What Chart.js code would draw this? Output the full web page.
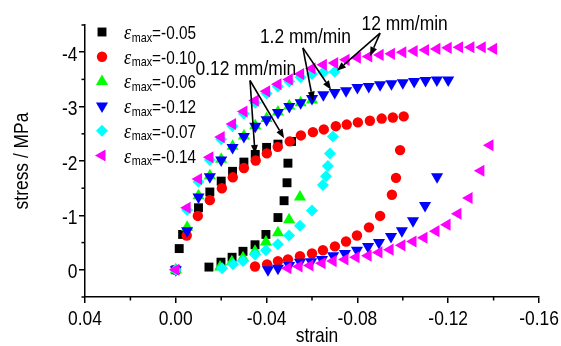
<!DOCTYPE html>
<html>
<head>
<meta charset="utf-8">
<script src="https://cdn.jsdelivr.net/npm/chart.js@4/dist/chart.umd.min.js"></script>
<style>
  body { margin: 0; background: #fff; }
</style>
</head>
<body>
<canvas id="myChart" width="561" height="346"></canvas>
<script>
// stress-strain loops (loading then unloading)
var strain005 = [0, -0.0015, -0.003, -0.010, -0.015, -0.020, -0.025, -0.030, -0.035, -0.040, -0.045, -0.051,
  -0.0494, -0.049, -0.0477, -0.045, -0.0397, -0.0349, -0.0296, -0.0248, -0.0199, -0.0146];
var stress005 = [0, -0.39, -0.65, -1.14, -1.43, -1.63, -1.81, -1.98, -2.12, -2.25, -2.31, -2.36,
  -1.96, -1.60, -1.27, -0.96, -0.65, -0.46, -0.34, -0.23, -0.14, -0.05];

var strain010 = [0, -0.0048, -0.0097, -0.015, -0.0203, -0.0251, -0.030, -0.0352, -0.0401, -0.0449, -0.0502,
  -0.0551, -0.0604, -0.0652, -0.0705, -0.0753, -0.0802, -0.0855, -0.0907, -0.0956, -0.1004,
  -0.0988, -0.097, -0.0952, -0.090, -0.0851, -0.0798, -0.075, -0.0701, -0.0648, -0.060, -0.0547, -0.0494, -0.045, -0.0402, -0.0349];
var stress010 = [0, -0.63, -0.99, -1.28, -1.50, -1.70, -1.87, -2.01, -2.14, -2.26, -2.36,
  -2.47, -2.53, -2.58, -2.64, -2.67, -2.71, -2.74, -2.78, -2.80, -2.82,
  -2.20, -1.69, -1.38, -0.99, -0.78, -0.63, -0.52, -0.43, -0.36, -0.30, -0.25, -0.19, -0.16, -0.10, -0.06];

var strain006 = [0, -0.005, -0.010, -0.015, -0.020, -0.025, -0.030, -0.035, -0.040, -0.045, -0.050, -0.055, -0.060,
  -0.0547, -0.0499, -0.045, -0.0397, -0.0349, -0.0296, -0.0247, -0.0195];
var stress006 = [0, -0.78, -1.36, -1.73, -2.03, -2.27, -2.46, -2.65, -2.78, -2.90, -3.01, -3.07, -3.12,
  -1.34, -0.92, -0.68, -0.51, -0.34, -0.22, -0.15, -0.05];

var strain012 = [0, -0.005, -0.010, -0.015, -0.020, -0.025, -0.030, -0.035, -0.040, -0.045, -0.050, -0.055, -0.060,
  -0.065, -0.070, -0.075, -0.080, -0.085, -0.090, -0.095, -0.100, -0.105, -0.110, -0.115, -0.120,
  -0.1151, -0.1098, -0.1045, -0.0996, -0.0948, -0.0895, -0.0847, -0.0798, -0.0745, -0.0693, -0.0644, -0.0596, -0.0547, -0.0499, -0.045, -0.0406];
var stress012 = [0, -0.72, -1.34, -1.71, -2.02, -2.25, -2.45, -2.64, -2.76, -2.89, -3.00, -3.07, -3.15,
  -3.22, -3.26, -3.29, -3.35, -3.37, -3.40, -3.42, -3.44, -3.46, -3.48, -3.49, -3.49,
  -1.71, -1.18, -0.90, -0.72, -0.61, -0.50, -0.43, -0.36, -0.30, -0.26, -0.19, -0.15, -0.14, -0.08, -0.03, 0.00];

var strain007 = [0, -0.005, -0.010, -0.015, -0.020, -0.025, -0.030, -0.035, -0.040, -0.045, -0.050, -0.055, -0.060, -0.065, -0.070,
  -0.0692, -0.0679, -0.067, -0.0662, -0.0648, -0.060, -0.0547, -0.0499, -0.045, -0.0397, -0.0349, -0.0296, -0.0252, -0.0204];
var stress007 = [0, -1.10, -1.62, -2.02, -2.40, -2.64, -2.87, -3.07, -3.24, -3.37, -3.46, -3.54, -3.60, -3.63, -3.64,
  -2.45, -2.14, -1.91, -1.72, -1.56, -1.09, -0.81, -0.63, -0.47, -0.36, -0.28, -0.16, -0.10, -0.03];

var strain014 = [0, -0.005, -0.010, -0.015, -0.020, -0.025, -0.030, -0.035, -0.040, -0.045, -0.050, -0.055, -0.060,
  -0.065, -0.070, -0.075, -0.080, -0.085, -0.090, -0.095, -0.100, -0.105, -0.110, -0.115, -0.120, -0.125, -0.130, -0.135, -0.140,
  -0.1384, -0.1344, -0.1292, -0.1243, -0.1195, -0.1146, -0.1093, -0.1045, -0.0996, -0.0944, -0.0895, -0.0847, -0.0794, -0.0745, -0.0693, -0.0644, -0.0591, -0.0543, -0.0494];
var stress014 = [0, -1.14, -1.67, -2.07, -2.44, -2.68, -2.91, -3.11, -3.28, -3.41, -3.50, -3.60, -3.70,
  -3.77, -3.80, -3.86, -3.90, -3.92, -3.95, -3.97, -4.00, -4.02, -4.04, -4.06, -4.08, -4.09, -4.09, -4.09, -4.06,
  -2.29, -1.82, -1.32, -1.03, -0.83, -0.71, -0.59, -0.52, -0.45, -0.37, -0.32, -0.26, -0.23, -0.19, -0.16, -0.12, -0.08, -0.06, -0.03];

var legendValues = ['-0.05', '-0.10', '-0.06', '-0.12', '-0.07', '-0.14'];

// rate labels: text anchor [strain, stress] and arrow tips
var rateLabels = ['0.12 mm/min', '1.2 mm/min', '12 mm/min'];
var rateTextAt = [[-0.0309, -3.59], [-0.0571, -4.17], [-0.1008, -4.41]];
var rateArrowFrom = [[-0.0327, -3.48], [-0.0560, -4.08], [-0.0900, -4.35]];
var rateArrowTo = [[[-0.0349, -2.13], [-0.0477, -2.42]], [[-0.0604, -3.11], [-0.0684, -3.31]], [[-0.0710, -3.66], [-0.0856, -3.93]]];

var FONT = '"Liberation Sans", Arial, sans-serif';
var SQUEEZE = 0.83; // the original lettering is a narrow face

function pts(xs, ys) {
  return xs.map(function(x, i) { return {x: x, y: ys[i]}; });
}

function isMajorX(v) { return Math.abs(v / 0.04 - Math.round(v / 0.04)) < 1e-6; }
function isMajorY(v) { return Math.abs(v - Math.round(v)) < 1e-6; }

function xLabel(v) { return Math.abs(v) < 1e-9 ? '0.00' : v.toFixed(2); }
function yLabel(v) { return String(Math.round(v)); }

// draws horizontally squeezed text, returns its drawn width
function narrowText(ctx, text, x, y, font, align) {
  ctx.save();
  ctx.font = font;
  ctx.textAlign = 'left';
  ctx.textBaseline = 'alphabetic';
  var w = ctx.measureText(text).width * SQUEEZE;
  var x0 = align === 'center' ? x - w / 2 : (align === 'right' ? x - w : x);
  ctx.translate(x0, y);
  ctx.scale(SQUEEZE, 1);
  ctx.fillText(text, 0, 0);
  ctx.restore();
  return w;
}

var series = [
  {data: pts(strain005, stress005), color: '#000000', style: 'rect', radius: 6.3, rotation: 0, order: 6},
  {data: pts(strain010, stress010), color: '#ff0000', style: 'circle', radius: 5.2, rotation: 0, order: 5},
  {data: pts(strain006, stress006), color: '#00ff00', style: 'triangle', radius: 7, rotation: 0, order: 4},
  {data: pts(strain012, stress012), color: '#0000ff', style: 'triangle', radius: 7, rotation: 180, order: 3},
  {data: pts(strain007, stress007), color: '#00ffff', style: 'rectRot', radius: 6, rotation: 0, order: 2},
  {data: pts(strain014, stress014), color: '#ff00ff', style: 'triangle', radius: 7, rotation: -90, order: 1}
];

var datasets = series.map(function(s) {
  return {
    data: s.data,
    order: s.order,
    pointStyle: s.style,
    pointRadius: s.radius,
    pointRotation: s.rotation,
    pointBackgroundColor: s.color,
    pointBorderWidth: 0,
    showLine: false
  };
});

function drawArrow(ctx, x0, y0, x1, y1) {
  var ang = Math.atan2(y1 - y0, x1 - x0);
  var len = 9, half = 3.5;
  var bx = x1 - Math.cos(ang) * len, by = y1 - Math.sin(ang) * len;
  ctx.beginPath();
  ctx.moveTo(x0, y0);
  ctx.lineTo(bx, by);
  ctx.stroke();
  ctx.beginPath();
  ctx.moveTo(x1, y1);
  ctx.lineTo(bx - Math.sin(ang) * half, by + Math.cos(ang) * half);
  ctx.lineTo(bx + Math.sin(ang) * half, by - Math.cos(ang) * half);
  ctx.closePath();
  ctx.fill();
}

// minor tick marks plus the tick labels and axis titles
var axisText = {
  id: 'axisText',
  afterDraw: function(chart) {
    var ctx = chart.ctx, xs = chart.scales.x, ys = chart.scales.y, a = chart.chartArea;
    ctx.save();
    ctx.strokeStyle = '#000';
    ctx.fillStyle = '#000';
    ctx.lineWidth = 1.5;
    xs.ticks.forEach(function(t) {
      var px = xs.getPixelForValue(t.value);
      if (isMajorX(t.value)) {
        narrowText(ctx, xLabel(t.value), px, a.bottom + 28, '21px ' + FONT, 'center');
      } else {
        ctx.beginPath(); ctx.moveTo(px, a.bottom); ctx.lineTo(px, a.bottom + 3.5); ctx.stroke();
      }
    });
    ys.ticks.forEach(function(t) {
      var py = ys.getPixelForValue(t.value);
      if (isMajorY(t.value)) {
        narrowText(ctx, yLabel(t.value), a.left - 7.5, py + 8.5, '21px ' + FONT, 'right');
      } else {
        ctx.beginPath(); ctx.moveTo(a.left, py); ctx.lineTo(a.left - 3.5, py); ctx.stroke();
      }
    });
    narrowText(ctx, 'strain', 317, 342, '21px ' + FONT, 'center');
    ctx.translate(28, (a.top + a.bottom) / 2);
    ctx.rotate(-Math.PI / 2);
    narrowText(ctx, 'stress / MPa', 0, 0, '21px ' + FONT, 'center');
    ctx.restore();
  }
};

var rateNotes = {
  id: 'rateNotes',
  afterDatasetsDraw: function(chart) {
    var ctx = chart.ctx, xs = chart.scales.x, ys = chart.scales.y;
    ctx.save();
    ctx.fillStyle = '#000';
    ctx.strokeStyle = '#000';
    ctx.lineWidth = 1.6;
    rateLabels.forEach(function(label, i) {
      narrowText(ctx, label, xs.getPixelForValue(rateTextAt[i][0]), ys.getPixelForValue(rateTextAt[i][1]), '21px ' + FONT, 'center');
      var fx = xs.getPixelForValue(rateArrowFrom[i][0]), fy = ys.getPixelForValue(rateArrowFrom[i][1]);
      rateArrowTo[i].forEach(function(t) {
        drawArrow(ctx, fx, fy, xs.getPixelForValue(t[0]), ys.getPixelForValue(t[1]));
      });
    });
    ctx.restore();
  }
};

var innerLegend = {
  id: 'innerLegend',
  afterDraw: function(chart) {
    var ctx = chart.ctx;
    ctx.save();
    series.forEach(function(s, i) {
      var y = 32 + i * 24.7;
      ctx.fillStyle = s.color;
      Chart.helpers.drawPoint(ctx, {pointStyle: s.style, radius: s.radius, rotation: s.rotation, borderWidth: 0}, 102, y);
      ctx.fillStyle = '#000';
      var x = 124;
      x += narrowText(ctx, '\u03b5', x, y + 7, 'italic 22px "Liberation Serif", serif', 'left') + 0.5;
      x += narrowText(ctx, 'max', x, y + 9.5, '13px ' + FONT, 'left');
      narrowText(ctx, '=' + legendValues[i], x, y + 7, '18.5px ' + FONT, 'left');
    });
    ctx.restore();
  }
};

var ctx = document.getElementById('myChart');
var chart = new Chart(ctx, {
  type: 'scatter',
  data: {datasets: datasets},
  options: {
    responsive: false,
    animation: false,
    events: [],
    layout: {padding: {top: 25, right: 22, left: 0, bottom: 0}},
    plugins: {legend: {display: false}, tooltip: {enabled: false}},
    scales: {
      x: {
        type: 'linear', min: -0.16, max: 0.04, reverse: true,
        afterFit: function(s) { s.height = 49; },
        border: {display: true, color: '#000', width: 1.5},
        grid: {
          drawOnChartArea: false, tickLength: 6, lineWidth: 1.5,
          color: function(c) { return c.tick && isMajorX(c.tick.value) ? '#000' : 'rgba(0,0,0,0)'; }
        },
        ticks: {stepSize: 0.02, display: false, autoSkip: false}
      },
      y: {
        type: 'linear', min: -4.5, max: 0.5, reverse: true,
        afterFit: function(s) { s.width = 85; },
        border: {display: true, color: '#000', width: 1.5},
        grid: {
          drawOnChartArea: false, tickLength: 6, lineWidth: 1.5,
          color: function(c) { return c.tick && isMajorY(c.tick.value) ? '#000' : 'rgba(0,0,0,0)'; }
        },
        ticks: {stepSize: 0.5, display: false, autoSkip: false}
      }
    }
  },
  plugins: [axisText, rateNotes, innerLegend]
});
</script>
</body>
</html>
